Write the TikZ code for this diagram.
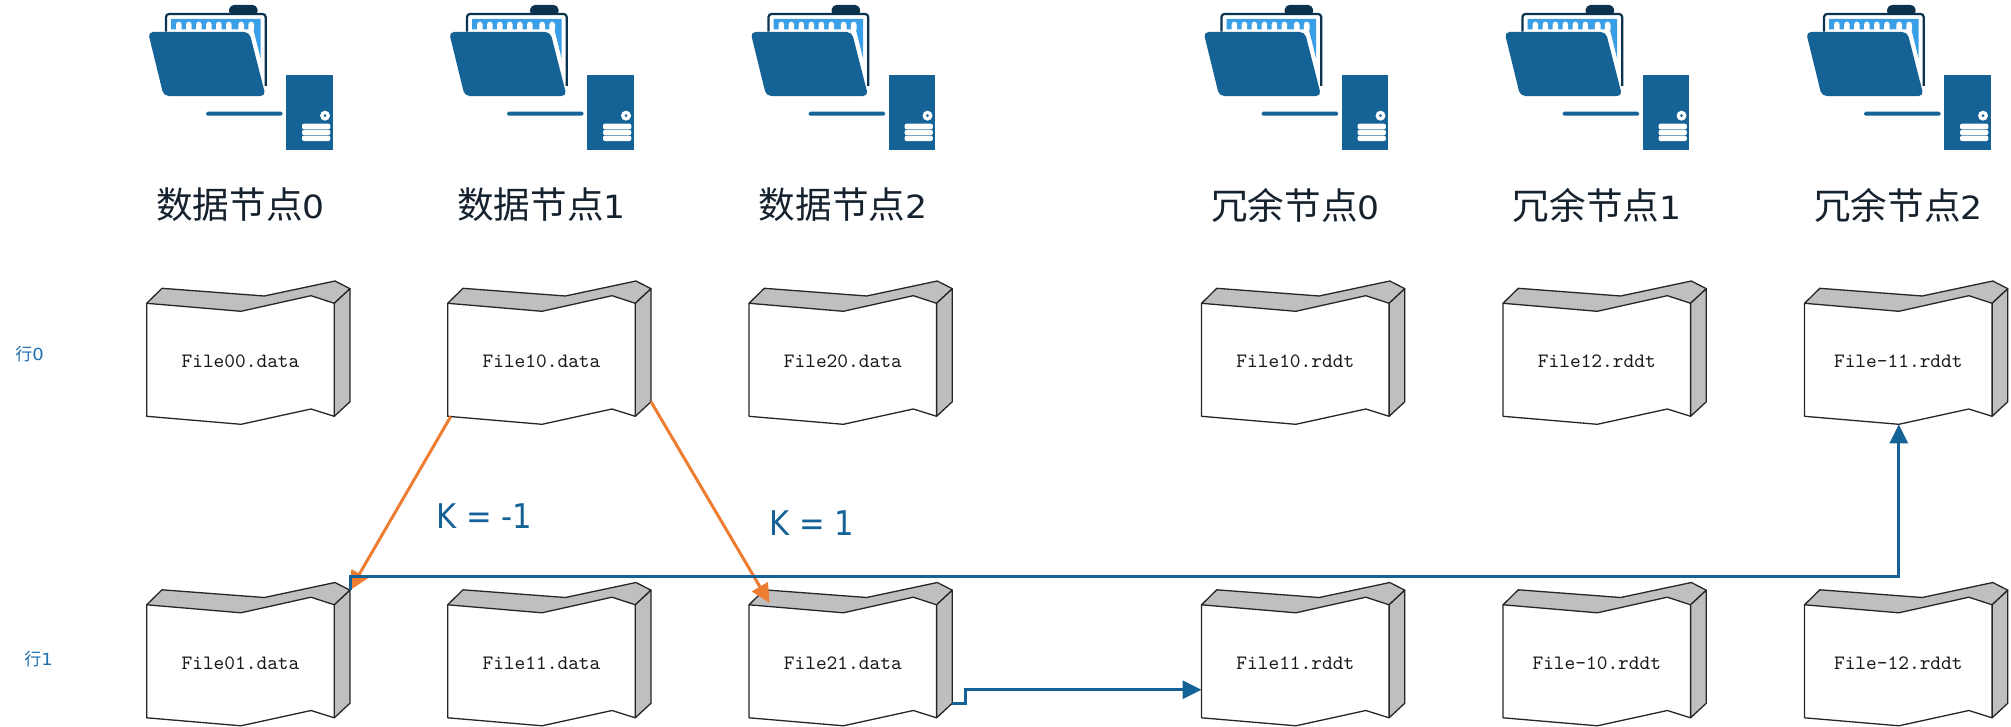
\documentclass[tikz,border=0pt]{standalone}
\usepackage{fontspec}
\usetikzlibrary{arrows.meta}
\newfontfamily\cjk{Noto Sans CJK SC}
\newfontfamily\dejav[FakeStretch=1.08]{DejaVu Sans}
\newfontfamily\kfont[FakeStretch=0.9]{DejaVu Sans}
\definecolor{bluemain}{HTML}{156296}
\definecolor{bluedark}{HTML}{0B3350}
\definecolor{bluelight}{HTML}{3A9FE6}
\definecolor{orangeline}{HTML}{ED7D31}
\definecolor{docgrey}{HTML}{BFBFBF}
\definecolor{rowblue}{HTML}{1F6FB0}
\definecolor{headtext}{HTML}{15222E}
\tikzset{
  docline/.style={draw=black!85, line width=0.65pt, line join=round},
  filetext/.style={inner sep=0pt, font=\ttfamily\fontsize{10.2}{12}\selectfont, text=black!90},
  headlabel/.style={inner sep=0pt, text=headtext},
  rowlabel/.style={inner sep=0pt, text=rowblue, anchor=west},
  klabel/.style={inner sep=0pt, text=bluemain, anchor=base west, font=\kfont\fontsize{17}{20}\selectfont},
  orangearrow/.style={draw=orangeline, line width=1.5pt, -{Triangle[length=9.5pt,width=9pt]}},
  bluearrow/.style={draw=bluemain, line width=1.5pt, line join=miter, -{Triangle[length=9.5pt,width=9pt]}},
}
% name, x, y, text
\newcommand{\docfile}[4]{%
  \begin{scope}[shift={(#2,#3)}]
    \fill[white] (0,0) -- (94.3,8) -- (164.3,-7.6) -- (187.6,0) -- (187.6,113) -- (164.3,105.7) -- (94.3,121) -- (0,113) -- cycle;
    \draw[docline] (187.6,113) -- (164.3,105.7) -- (94.3,121) -- (0,113) -- (0,0);
    \draw[docline, fill=docgrey] (0,0) -- (15.3,-15) -- (117.6,-7.3) -- (188.3,-22.3) -- (203.3,-14.6) -- (187.6,0) -- (164.3,-7.6) -- (94.3,8) -- cycle;
    \draw[docline, fill=docgrey] (187.6,0) -- (203.3,-14.6) -- (203.3,98.4) -- (187.6,113) -- cycle;
    \node[filetext, minimum width=93.8pt, minimum height=56.5pt] (#1) at (93.8,58) {#4};
    \coordinate (#1-bl) at (3,113.3);
    \coordinate (#1-mid) at (94.3,121);
    \coordinate (#1-tr) at (203.3,-14.6);
    \coordinate (#1-br) at (203.3,98.4);
    \coordinate (#1-top) at (20.5,-1.8);
    \coordinate (#1-left) at (0,85);
  \end{scope}}
% x offset
\newcommand{\hosticon}[1]{%
  \begin{scope}[shift={(140+#1,0)}, x=0.16667pt, y=-0.16667pt]
    \fill[bluedark, rounded corners=2pt] (265,44) -- (270,15) -- (350,15) -- (355,44) -- cycle;
    \draw[bluedark, line width=1.1pt, rounded corners=1.5pt] (78,95) -- (78,42) -- (377,42) -- (377,258);
    \fill[bluelight] (93,57) -- (362,57) -- (362,176) -- (340,88) -- (93,88) -- cycle;
    \foreach \cx in {108,138,168,198,228,258,295,325}
      \fill[white, rounded corners=1.5pt] (\cx,96) -- (\cx,65) -- (\cx+17,65) -- (\cx+17,96) -- cycle;
    \fill[bluemain, rounded corners=2.5pt] (24,96) -- (328,96) -- (377,288) -- (71,288) -- cycle;
    \fill[bluemain, rounded corners=0.8pt] (198,335) rectangle (428,347);
    \fill[bluemain] (439,226) rectangle (578,451);
    \fill[white] (555,347) circle (15);
    \fill[bluemain] (555,347) circle (4.5);
    \fill[white, rounded corners=1pt] (486,371) rectangle (571,388);
    \fill[white, rounded corners=1pt] (486,389.5) rectangle (571,405.5);
    \fill[white, rounded corners=1pt] (486,407) rectangle (571,423);
  \end{scope}}
\newcommand{\headtxt}[2]{{\cjk\fontsize{18.3}{22}\selectfont #1}{\dejav\fontsize{16}{22}\selectfont #2}}
\newcommand{\rowtxt}[2]{{\cjk\fontsize{8.5}{10}\selectfont #1}{\dejav\fontsize{8.3}{10}\selectfont #2}}
\begin{document}
\begin{tikzpicture}[x=0.5pt, y=-0.5pt]
  \useasboundingbox (0,0) rectangle (2011,727);
  \hosticon{0}
  \hosticon{301}
  \hosticon{602.5}
  \hosticon{1055.5}
  \hosticon{1356.5}
  \hosticon{1658}

  \node[headlabel] (h0) at (240.5,205) {\headtxt{数据节点}{0}};
  \node[headlabel] (h1) at (541.5,205) {\headtxt{数据节点}{1}};
  \node[headlabel] (h2) at (843,205) {\headtxt{数据节点}{2}};
  \node[headlabel] (h3) at (1295.5,205) {\headtxt{冗余节点}{0}};
  \node[headlabel] (h4) at (1597,205) {\headtxt{冗余节点}{1}};
  \node[headlabel] (h5) at (1898.5,205) {\headtxt{冗余节点}{2}};

  \node[rowlabel] (row0) at (15,354) {\rowtxt{行}{0}};
  \node[rowlabel] (row1) at (24,659.5) {\rowtxt{行}{1}};

  \docfile{a00}{146.7}{303.3}{File00.data}
  \docfile{a10}{447.7}{303.3}{File10.data}
  \docfile{a20}{749}{303.3}{File20.data}
  \docfile{b00}{1201.5}{303.3}{File10.rddt}
  \docfile{b10}{1503}{303.3}{File12.rddt}
  \docfile{b20}{1804.5}{303.3}{File-11.rddt}
  \docfile{a01}{146.7}{604.8}{File01.data}
  \docfile{a11}{447.7}{604.8}{File11.data}
  \docfile{a21}{749}{604.8}{File21.data}
  \docfile{b01}{1201.5}{604.8}{File11.rddt}
  \docfile{b11}{1503}{604.8}{File-10.rddt}
  \docfile{b21}{1804.5}{604.8}{File-12.rddt}

  \node[klabel] (k0) at (436,528.3) {K = -1};
  \node[klabel] (k1) at (769,535) {K = 1};

  \draw[orangearrow] (a10-bl) -- (a01-tr);
  \draw[orangearrow] (a10-br) -- (a21-top);
  \draw[bluearrow] (a01-tr) -- ++(0,-13.5) -| (b20-mid);
  \draw[bluearrow] (a21-br) -- ++(13.4,0) |- (b01-left);
\end{tikzpicture}
\end{document}
